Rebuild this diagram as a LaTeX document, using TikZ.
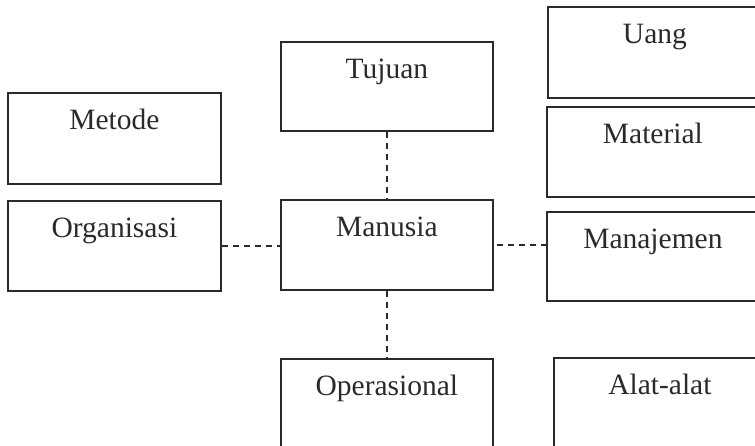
\documentclass[tikz,border=0pt]{standalone}
\usepackage{fontspec}
\setmainfont{Liberation Serif}
\definecolor{ink}{HTML}{2A2A2A}
\begin{document}
\begin{tikzpicture}[x=1pt,y=-1pt,
  box/.style 2 args={draw=ink, line width=1.8pt, anchor=north west, inner xsep=0pt, inner ysep=0pt,
    minimum width=#1, text height=37pt, text depth=#2, align=center,
    font=\fontsize{29.5}{34}\selectfont, text=ink},
  link/.style={draw=ink, line width=1.6pt, dash pattern=on 6pt off 5pt}]
\useasboundingbox (0,0) rectangle (755,446);
\clip (0,0) rectangle (755,446);
\node[box={212pt}{52pt}] (tujuan) at (280,41) {Tujuan};
\node[box={214pt}{54pt}] (uang) at (547,6) {Uang};
\node[box={213pt}{54pt}] (metode) at (7,92) {Metode};
\node[box={212pt}{53pt}] (material) at (546,106) {Material};
\node[box={213pt}{53pt}] (organisasi) at (7,200) {Organisasi};
\node[box={212pt}{53pt}] (manusia) at (280,199) {Manusia};
\node[box={212pt}{52pt}] (manajemen) at (546,211) {Manajemen};
\node[box={212pt}{63pt}] (operasional) at (280,358) {Operasional};
\node[box={212pt}{63pt}] (alat) at (553,357) {Alat-alat};
\draw[link] (tujuan.south) -- (manusia.north);
\draw[link] (manusia.south) -- (operasional.north);
\draw[link] (organisasi.east) -- (organisasi.east -| manusia.west);
\draw[link, dash phase=8pt] (manusia.east) -- (manusia.east -| manajemen.west);
\end{tikzpicture}
\end{document}
